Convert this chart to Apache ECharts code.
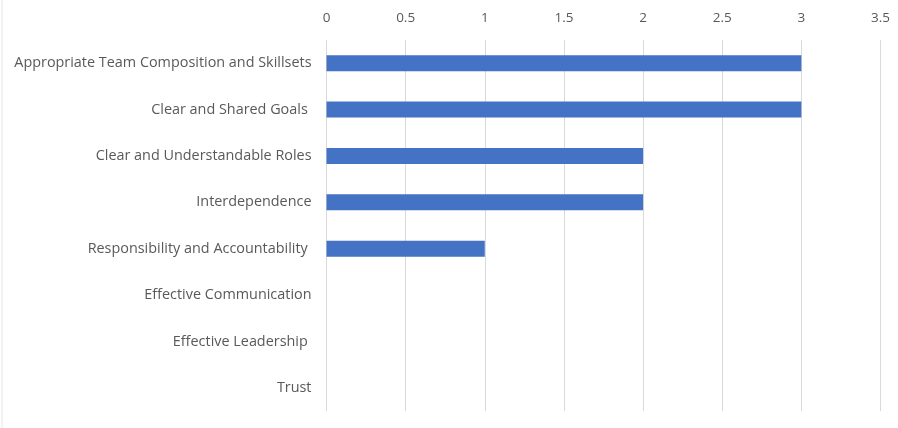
<!DOCTYPE html>
<html>
<head>
<meta charset="utf-8">
<script src="https://cdn.jsdelivr.net/npm/echarts@6/dist/echarts.min.js"></script>
<style>
  html, body { margin: 0; padding: 0; background: #fff; }
  #chart { width: 898px; height: 428px; }
</style>
</head>
<body>
<div id="chart"></div>
<script>
// Team effectiveness factors, listed top to bottom
const categories = [
  'Appropriate Team Composition and Skillsets',
  'Clear and Shared Goals ',
  'Clear and Understandable Roles',
  'Interdependence',
  'Responsibility and Accountability ',
  'Effective Communication',
  'Effective Leadership ',
  'Trust'
];
const counts = [3, 3, 2, 2, 1, 0, 0, 0];
const axisMin = 0;
const axisMax = 3.5;
const axisStep = 0.5;

const chart = echarts.init(document.getElementById('chart'), null, { renderer: 'canvas' });
const fontFamily = 'Open Sans, Lato, sans-serif';

chart.setOption({
  animation: false,
  backgroundColor: '#ffffff',
  grid: { left: 326.5, right: 17.5, top: 40, bottom: 17, containLabel: false },
  graphic: [{
    type: 'line',
    shape: { x1: 2, y1: 0, x2: 2, y2: 428 },
    style: { stroke: '#e6e6e6', lineWidth: 1 }
  }],
  xAxis: {
    type: 'value',
    position: 'top',
    min: axisMin,
    max: axisMax,
    interval: axisStep,
    axisLine: { show: false },
    axisTick: { show: false },
    axisLabel: { margin: 15, color: '#595959', fontSize: 13.5, fontFamily: fontFamily },
    splitLine: { show: true, lineStyle: { color: '#d9d9d9', width: 1 } }
  },
  yAxis: {
    type: 'category',
    data: categories,
    inverse: true,
    axisLine: { show: false },
    axisTick: { show: false },
    axisLabel: { margin: 15, color: '#595959', fontSize: 14.4, fontFamily: fontFamily }
  },
  series: [{
    type: 'bar',
    data: counts,
    barWidth: 16,
    itemStyle: { color: '#4472C4' }
  }]
});
</script>
</body>
</html>
